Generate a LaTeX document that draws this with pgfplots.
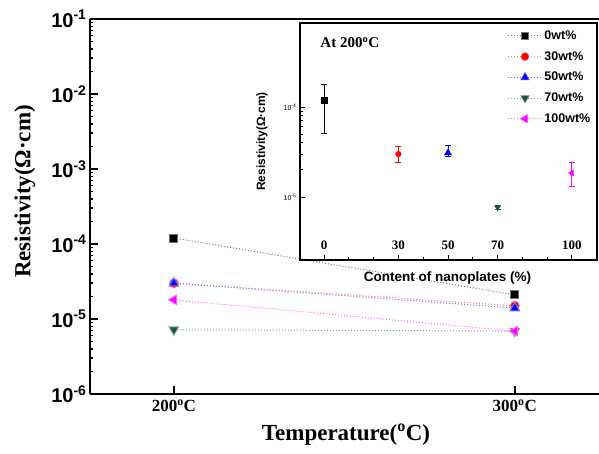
\documentclass[border=0pt]{standalone}
\usepackage{fontspec}
\setmainfont{Liberation Serif}
\setsansfont{Liberation Sans}
\usepackage{pgfplots}
\pgfplotsset{compat=1.18}
\definecolor{cG}{HTML}{1E5248}
\definecolor{cM}{HTML}{FF00FF}

\pgfplotsset{
  sA/.style={black, mark=square*, mark options={solid, fill=black}},
  sB/.style={red, mark=*, mark options={solid, fill=red}},
  sC/.style={blue, mark=triangle*, mark options={solid, fill=blue}},
  sD/.style={cG, mark=triangle*, mark options={solid, fill=cG, rotate=180}},
  sE/.style={cM, mark=triangle*, mark options={solid, fill=cM, rotate=90}},
}

\begin{document}
\begin{tikzpicture}
\useasboundingbox (-90pt,-60pt) rectangle (509pt,394pt);

% main axis
\begin{axis}[scale only axis, width=509pt, height=375pt,
  xmin=175.4, xmax=324.7, ymode=log, ymin=1e-6, ymax=1e-1,
  axis y line*=left, axis x line*=box,
  axis line style={line width=1.8pt, -},
  tick pos=left, tick align=inside, major tick length=8pt,
  tick style={line width=1.5pt, black},
  xtick={200,300}, xticklabels={200\textsuperscript{o}C, 300\textsuperscript{o}C},
  x tick label style={font=\bfseries\fontsize{17}{17}\selectfont, yshift=-2pt},
  ytick={1e-6,1e-5,1e-4,1e-3,1e-2,1e-1}, minor ytick={},
  yticklabels={10\textsuperscript{-6},10\textsuperscript{-5},10\textsuperscript{-4},10\textsuperscript{-3},10\textsuperscript{-2},10\textsuperscript{-1}},
  y tick label style={font=\sffamily\bfseries\fontsize{20}{20}\selectfont},
  xlabel={\bfseries Temperature(\textsuperscript{o}C)},
  x label style={at={(axis description cs:0.503,0)}, yshift=-41pt, anchor=center,
    font=\fontsize{23}{23}\selectfont},
  ylabel={\bfseries Resistivity(Ω·cm)},
  y label style={at={(axis description cs:-0.128,0.54)}, anchor=center,
    font=\fontsize{23}{23}\selectfont},
  every axis plot/.append style={dotted, line width=1pt},
  clip=false]
  \addplot[sA, black!55, mark size=4pt] coordinates {(200,1.2e-4) (300,2.1e-5)};
  \addplot[sB, red!55, mark size=4.5pt] coordinates {(200,3.0e-5) (300,1.5e-5)};
  \addplot[sC, blue!55, mark size=5.5pt] coordinates {(200,3.0e-5) (300,1.4e-5)};
  \addplot[sD, cG!55, mark size=5.5pt] coordinates {(200,7.2e-6) (300,6.9e-6)};
  \addplot[sE, cM!60, mark size=5.5pt] coordinates {(200,1.8e-5) (300,6.9e-6)};
\end{axis}

% inset
\begin{axis}[at={(210pt,134pt)}, anchor=south west,
  scale only axis, width=297pt, height=237pt,
  xmin=-9.7, xmax=110.1, ymode=log, ymin=2e-6, ymax=8.57e-4,
  axis line style={line width=1.2pt},
  tick pos=left, tick align=inside, major tick length=5pt, minor tick length=3pt,
  tick style={line width=1pt, black},
  xtick={0,30,50,70,100}, minor xtick={10,20,40,60,80,90},
  xticklabels={0,30,50,70,100},
  x tick label style={anchor=center, yshift=15pt, font=\bfseries\fontsize{13}{13}\selectfont},
  ytick={1e-5,1e-4},
  yticklabels={10\textsuperscript{-5},10\textsuperscript{-4}},
  y tick label style={font=\sffamily\fontsize{7}{7}\selectfont},
  xlabel={\sffamily\bfseries Content of nanoplates (\%)},
  x label style={at={(axis description cs:0.497,0)}, yshift=-18pt, anchor=center,
    font=\fontsize{13.5}{13.5}\selectfont},
  ylabel={\sffamily\bfseries Resistivity(Ω·cm)},
  y label style={at={(axis description cs:-0.128,0.5)}, anchor=center,
    font=\fontsize{12}{12}\selectfont},
  legend style={at={(axis description cs:0.995,0.985)}, anchor=north east,
    draw=none, fill=none, font=\sffamily\bfseries\fontsize{12.5}{12.5}\selectfont,
    row sep=6.5pt, cells={anchor=west}},
  legend image code/.code={
    \draw[#1, dotted, line width=0.9pt] (0pt,0pt) -- (34pt,0pt);
    \draw[#1, only marks] plot coordinates {(17pt,0pt)};},
  error bars/y dir=both, error bars/y explicit,
  error bars/error bar style={line width=1pt, solid},
  error bars/error mark options={rotate=90, mark size=3pt, line width=1pt, solid},
  clip=false]
  \addlegendimage{sA, black!55, mark size=3.5pt}
  \addlegendimage{sB, red!55, mark size=4pt}
  \addlegendimage{sC, blue!55, mark size=5pt}
  \addlegendimage{sD, cG!55, mark size=5pt}
  \addlegendimage{sE, cM!60, mark size=5pt}
  \addplot[sA, only marks, mark size=3pt, forget plot,
    error bars/error bar style={black}] coordinates {(0,1.2e-4) += (0,0.6e-4) -= (0,0.69e-4)};
  \addplot[sB, only marks, mark size=2.8pt, forget plot,
    error bars/error bar style={red}] coordinates {(30,3.0e-5) += (0,0.6e-5) -= (0,0.55e-5)};
  \addplot[sC, only marks, mark size=4pt, forget plot,
    error bars/error bar style={blue}] coordinates {(50,3.1e-5) += (0,0.6e-5) -= (0,0.3e-5)};
  \addplot[sD, only marks, mark size=3.5pt, forget plot,
    error bars/error bar style={cG}] coordinates {(70,7.7e-6) += (0,0.4e-6) -= (0,0.4e-6)};
  \addplot[sE, only marks, mark size=3.5pt, forget plot,
    error bars/error bar style={cM}] coordinates {(100,1.85e-5) += (0,0.6e-5) -= (0,0.53e-5)};
  \legend{0wt\%, 30wt\%, 50wt\%, 70wt\%, 100wt\%}
  \node[anchor=west, font=\bfseries\fontsize{15}{15}\selectfont]
    at (axis description cs:0.057,0.916) {At 200\textsuperscript{o}C};
\end{axis}
\end{tikzpicture}
\end{document}
